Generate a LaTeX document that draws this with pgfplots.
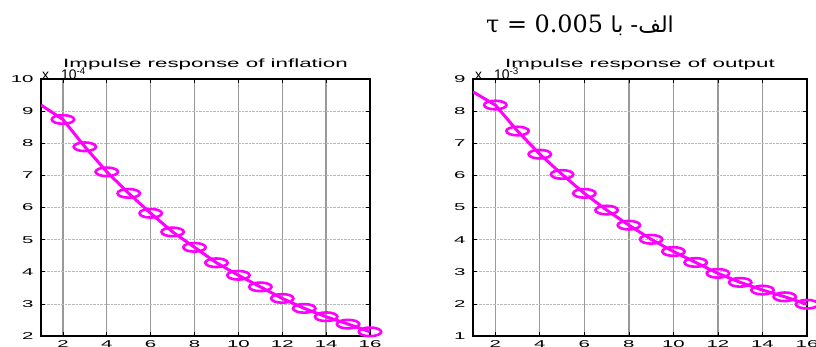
\documentclass[border=0pt]{standalone}
\usepackage{graphicx}
\usepackage{pgfplots}
\pgfplotsset{compat=1.18}
\usepackage{pgfplotstable}
\usepackage{fontspec}
\setmainfont{Liberation Sans}
\newfontfamily\arabicfont[Script=Arabic]{DejaVu Sans}
\newfontfamily\serifd{DejaVu Serif}
\TeXXeTstate=1
\definecolor{mag}{RGB}{255,0,255}

\pgfplotstableread{
x y
1 9.19
2 8.74
3 7.89
4 7.11
5 6.44
6 5.82
7 5.24
8 4.76
9 4.28
10 3.89
11 3.53
12 3.17
13 2.86
14 2.60
15 2.37
16 2.13
}\inflation

\pgfplotstableread{
x y
1 8.60
2 8.19
3 7.38
4 6.66
5 6.03
6 5.44
7 4.92
8 4.45
9 4.01
10 3.63
11 3.29
12 2.95
13 2.67
14 2.43
15 2.22
16 1.99
}\output

\pgfplotsset{
  irf/.style={
    scale only axis,
    anchor=south west,
    xmin=1, xmax=16,
    xtick={2,4,...,16},
    tick align=inside,
    major tick length=4bp,
    tick style={black, line width=0.7bp},
    axis line style={black, line width=1.1bp},
    xmajorgrids, ymajorgrids,
    x grid style={gray!80, line width=1.3bp},
    y grid style={gray!55, densely dotted, line width=0.7bp},
    tick label style={font=\fontsize{10}{10}\selectfont},
    xticklabel={\scalebox{2.05}[1]{\pgfmathprintnumber[assume math mode=true]{\tick}}},
    yticklabel={\scalebox{2.05}[1]{\pgfmathprintnumber[assume math mode=true]{\tick}}},
    yticklabel style={xshift=-4bp},
    xticklabel style={yshift=-1bp},
    title style={at={(0.5,1)}, anchor=base, yshift=6bp, font=\fontsize{12}{12}\selectfont},
    clip mode=individual,
  },
  irfline/.style={mag, line width=3bp, no markers},
  irfmarks/.style={mag, only marks, mark=o, mark size=4.3bp,
    mark options={solid, xscale=2.6, line width=2.6bp}},
}

\begin{document}
\begin{tikzpicture}
\path[use as bounding box] (0,0) rectangle (816bp,347bp);

\node[anchor=base west, inner sep=0pt] at (486bp,314bp)
  {\serifd\fontsize{24}{24}\selectfont τ = 0.005 \arabicfont\fontsize{22}{22}\selectfont\beginR الف- با\endR};

\node[anchor=base west, inner sep=0pt, font=\fontsize{14}{14}\selectfont] at (42bp,267bp) {x\hspace{12bp}10\textsuperscript{-4}};
\node[anchor=base west, inner sep=0pt, font=\fontsize{14}{14}\selectfont] at (475bp,267bp) {x\hspace{12bp}10\textsuperscript{-3}};

\begin{axis}[irf, at={(41bp,11bp)}, width=329bp, height=257bp,
  ymin=2, ymax=10, ytick={2,3,...,10},
  title={\scalebox{1.87}[1]{Impulse response of inflation}}]
\addplot[irfline] table[x=x,y=y] {\inflation};
\addplot[irfmarks, restrict x to domain=1.5:16] table[x=x,y=y] {\inflation};
\end{axis}

\begin{axis}[irf, at={(473bp,11bp)}, width=334bp, height=257bp,
  ymin=1, ymax=9, ytick={1,2,...,9},
  title={\scalebox{1.87}[1]{Impulse response of output}}]
\addplot[irfline] table[x=x,y=y] {\output};
\addplot[irfmarks, restrict x to domain=1.5:16] table[x=x,y=y] {\output};
\end{axis}
\end{tikzpicture}
\end{document}
